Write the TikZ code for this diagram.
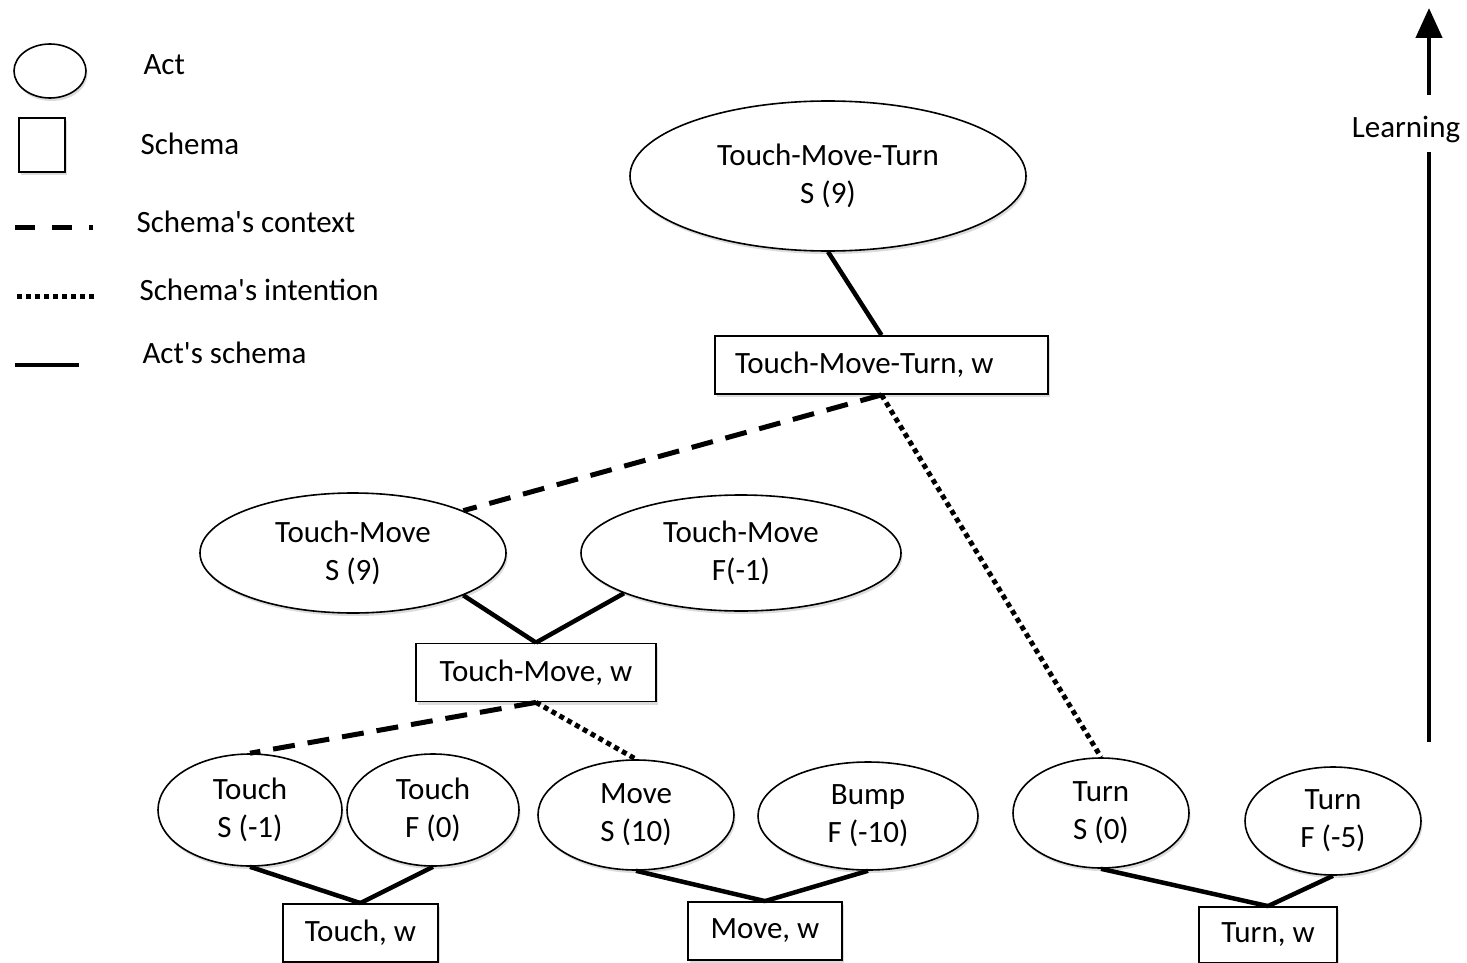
\documentclass[tikz,border=0pt]{standalone}
\usepackage{fontspec}
\setmainfont{Carlito}
\usetikzlibrary{arrows.meta,positioning,shapes.geometric,shadows}
\tikzset{
  act-node/.style={draw=black, fill=white, ellipse, line width=1.6pt, inner sep=0pt, align=center,
    drop shadow={shadow xshift=1.5pt, shadow yshift=-3pt, fill=black!45, opacity=0.3}},
  schema-node/.style={draw=black, fill=white, rectangle, line width=1.8pt, inner sep=0pt, minimum height=58pt,
    drop shadow={shadow xshift=1.5pt, shadow yshift=-3pt, fill=black!45, opacity=0.3}},
  act-link/.style={line width=4.5pt},
  context-link/.style={line width=5pt, dash pattern=on 22pt off 13pt},
  intention-link/.style={line width=5pt, dash pattern=on 5pt off 4pt},
  legend-text/.style={anchor=west}
}

\begin{document}
\begin{tikzpicture}[x=1pt, y=-1pt, font=\fontsize{31}{38}\selectfont]
  \useasboundingbox (0,0) rectangle (1467,963);

  % Legend
  \node[act-node, minimum width=72pt, minimum height=54pt] (lgact) at (50,71) {};
  \node[legend-text] (lgacttext) at (140,65) {Act};
  \node[schema-node, minimum width=46pt, minimum height=54pt] (lgschema) at (42,145) {};
  \node[legend-text] (lgschematext) at (137,144) {Schema};
  \coordinate (lgctxa) at (15,227);
  \coordinate (lgctxb) at (93,227);
  \draw[context-link, dash pattern=on 20pt off 17pt] (lgctxa) -- (lgctxb);
  \node[legend-text] (lgctxtext) at (133,222) {Schema\textquotesingle s context};
  \coordinate (lginta) at (17,296);
  \coordinate (lgintb) at (95,296);
  \draw[intention-link] (lginta) -- (lgintb);
  \node[legend-text] (lginttext) at (136,290) {Schema\textquotesingle s intention};
  \coordinate (lgacta) at (15,365);
  \coordinate (lgactb) at (79,365);
  \draw[act-link] (lgacta) -- (lgactb);
  \node[legend-text] (lgacttext2) at (139,353) {Act\textquotesingle s schema};

  % Learning arrow
  \node[anchor=base] (lrn) at (1406,138) {Learning};
  \coordinate (lrnbot) at (1429,742);
  \coordinate (lrngapa) at (1429,152);
  \coordinate (lrngapb) at (1429,95);
  \coordinate (lrntop) at (1429,8);
  \draw[act-link] (lrnbot) -- (lrngapa);
  \draw[act-link, -{Triangle[width=26pt, length=30pt]}] (lrngapb) -- (lrntop);

  % Top level
  \node[act-node, minimum width=396pt, minimum height=150pt] (tmt) at (828,176) {Touch-Move-Turn\\S (9)};
  \node[schema-node, minimum width=333pt, text width=293pt, inner xsep=20pt, align=flush left] (tmtw) at (881.5,365) {Touch-Move-Turn, w};
  \draw[act-link] (tmt.south) -- (tmtw.north);

  % Middle level
  \node[act-node, minimum width=306pt, minimum height=120pt] (tms) at (353,553) {Touch-Move\\S (9)};
  \node[act-node, minimum width=320pt, minimum height=116pt] (tmf) at (741,553) {Touch-Move\\F(-1)};
  \node[schema-node, minimum width=240pt] (tmw) at (536,672.5) {Touch-Move, w};
  \draw[act-link] (tms.-21) -- (tmw.north);
  \draw[act-link] (tmf.-161) -- (tmw.north);

  % Bottom level acts
  \node[act-node, minimum width=184pt, minimum height=112pt] (tchs) at (250,810) {Touch\\S (-1)};
  \node[act-node, minimum width=172pt, minimum height=112pt] (tchf) at (433,810) {Touch\\F (0)};
  \node[act-node, minimum width=196pt, minimum height=110pt] (mvs) at (636,815) {Move\\S (10)};
  \node[act-node, minimum width=220pt, minimum height=108pt] (bmpf) at (868,816) {Bump\\F (-10)};
  \node[act-node, minimum width=176pt, minimum height=110pt] (trs) at (1101,813) {Turn\\S (0)};
  \node[act-node, minimum width=176pt, minimum height=108pt] (trf) at (1333,821) {Turn\\F (-5)};

  % Bottom level schemas
  \node[schema-node, minimum width=155pt] (tchw) at (360.5,933) {Touch, w};
  \node[schema-node, minimum width=154pt] (mvw) at (765,931) {Move, w};
  \node[schema-node, minimum width=138pt, minimum height=56pt] (trw) at (1268,935) {Turn, w};
  \draw[act-link] (tchs.south) -- (tchw.north);
  \draw[act-link] (tchf.south) -- (tchw.north);
  \draw[act-link] (mvs.south) -- (mvw.north);
  \draw[act-link] (bmpf.south) -- (mvw.north);
  \draw[act-link] (trs.south) -- (trw.north);
  \draw[act-link] (trf.south) -- (trw.north);

  % Context and intention
  \draw[context-link] (tmtw.south) -- (tms.21);
  \draw[intention-link] (tmtw.south) -- (trs.north);
  \draw[context-link] (tmw.south) -- (tchs.north);
  \draw[intention-link] (tmw.south) -- (mvs.north);
\end{tikzpicture}
\end{document}
